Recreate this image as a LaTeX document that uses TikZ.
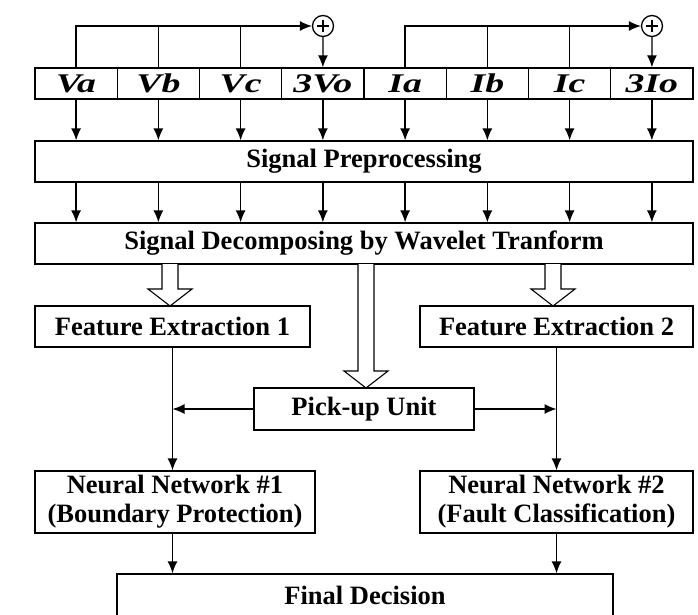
\documentclass[tikz,border=0pt]{standalone}
\usepackage{fontspec}
\setmainfont{Liberation Serif}
\usepackage{graphicx}
\usetikzlibrary{arrows.meta}
\begin{document}
\begin{tikzpicture}[x=1pt,y=-1pt,line width=1.3pt,>={Latex[length=12pt,width=10pt]},
  box/.style={draw, inner sep=0pt, font=\bfseries\fontsize{26.5}{29}\selectfont, align=center},
  inbox/.style={draw, minimum width=82.25pt, minimum height=31pt, inner sep=0pt,
    font=\bfseries\itshape\fontsize{27}{30}\selectfont},
  sum/.style={draw, circle, minimum size=21pt, inner sep=0pt,
    path picture={
      \draw[line width=2.4pt] ([xshift=-6pt]path picture bounding box.center) -- ([xshift=6pt]path picture bounding box.center);
      \draw[line width=2.4pt] ([yshift=-6pt]path picture bounding box.center) -- ([yshift=6pt]path picture bounding box.center);
    }}]
\useasboundingbox (0,0) rectangle (698,614);

% inputs
\foreach \n/\t [count=\i from 0] in {Va/Va, Vb/Vb, Vc/Vc, Vo/3Vo, Ia/Ia, Ib/Ib, Ic/Ic, Io/3Io}
  \node[inbox] (\n) at ({76.1+82.25*\i},83.5) {\scalebox{1.4}[1]{\t}};

\node[sum] (S1) at (323,26) {};
\node[sum] (S2) at (652,26) {};

\node[box, minimum width=658pt, minimum height=41pt] (Pre) at (364,161.5) {Signal Preprocessing};
\node[box, minimum width=658pt, minimum height=41pt] (Dec) at (364,243.5) {Signal Decomposing by Wavelet Tranform};
\node[box, minimum width=275pt, minimum height=41pt] (FE1) at (172.5,326.5) {Feature Extraction 1};
\node[box, minimum width=273pt, minimum height=41pt] (FE2) at (556.5,326.5) {Feature Extraction 2};
\node[box, minimum width=220pt, minimum height=42pt] (Pick) at (364,409) {Pick-up Unit};
\node[box, minimum width=280pt, minimum height=62pt] (NN1) at (175,502) {Neural Network \#1\\(Boundary Protection)};
\node[box, minimum width=273pt, minimum height=62pt] (NN2) at (556.5,502) {Neural Network \#2\\(Fault Classification)};
\node[box, minimum width=496pt, minimum height=42pt] (Fin) at (365,595) {Final Decision};

% zero sequence sums
\draw[->] (Va.north) |- (S1);
\draw (Vb.north) -- (Vb.north |- S1);
\draw (Vc.north) -- (Vc.north |- S1);
\draw[->] (S1) -- (Vo);
\draw[->] (Ia.north) |- (S2);
\draw (Ib.north) -- (Ib.north |- S2);
\draw (Ic.north) -- (Ic.north |- S2);
\draw[->] (S2) -- (Io);

\foreach \n in {Va,Vb,Vc,Vo,Ia,Ib,Ic,Io}{
  \draw[->] (\n.south) -- (\n.south |- Pre.north);
  \draw[->] (\n.south |- Pre.south) -- (\n.south |- Dec.north);
}

% hollow arrows
\foreach \x/\a/\b in {170/264/306, 553/264/306, 366/264/388}
  \draw[fill=white, line width=1.1pt] (\x-8,\a) -- (\x-8,\b-17) -- (\x-22,\b-17) -- (\x,\b)
    -- (\x+22,\b-17) -- (\x+8,\b-17) -- (\x+8,\a);

\draw[->] (FE1.south) -- (FE1.south |- NN1.north);
\draw[->] (FE2.south) -- (FE2.south |- NN2.north);
\draw[->] (Pick.west) -- (Pick.west -| FE1.south);
\draw[->] (Pick.east) -- (Pick.east -| FE2.south);
\draw[->] (NN1.south -| FE1.south) -- (FE1.south |- Fin.north);
\draw[->] (NN2.south -| FE2.south) -- (FE2.south |- Fin.north);
\end{tikzpicture}
\end{document}
